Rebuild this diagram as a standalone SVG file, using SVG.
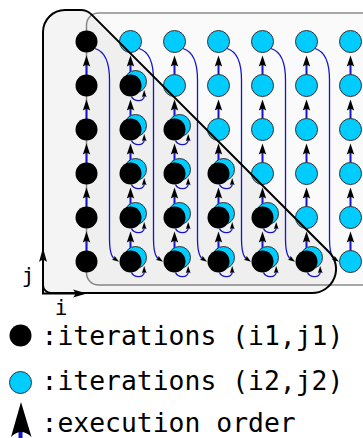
<svg xmlns="http://www.w3.org/2000/svg" width="363" height="438" viewBox="0 0 363 438">
<defs>
<style>
.bk{fill:#000}
.cy{fill:#00ccff;stroke:#333;stroke-width:1}
.v{stroke:#1414cc;stroke-width:2;fill:none;marker-end:url(#ah)}
.c{stroke:#1414cc;stroke-width:1.3;fill:none;marker-end:url(#ah)}
.ax{stroke:#000;stroke-width:2;fill:none;marker-end:url(#axh)}
.t{font-family:"DejaVu Sans Mono","Liberation Mono",monospace;fill:#000}
</style>
<marker id="ah" markerWidth="6" markerHeight="4" refX="1" refY="2" orient="auto" overflow="visible"><path d="M5.5,2 L0,0.15 Q1.5,2 0,3.85 Z" fill="#000" stroke="none"/></marker>
<marker id="axh" markerWidth="7" markerHeight="4" refX="1.5" refY="2" orient="auto" overflow="visible"><path d="M7,2 L0,0 Q2,2 0,4 Z" fill="#000" stroke="none"/></marker>
</defs>
<rect width="363" height="438" fill="#fff"/>
<g id="regions">
<rect x="86.5" y="13" width="300" height="272" rx="12" fill="#fafafa" stroke="#8c8c8c" stroke-width="1.5"/>
<path id="triangle-fill" d="M51,293 L312,293 A24,24 0 0 0 329,252 L91.4,14.4 A15,15 0 0 0 80.8,10 L65,10 A22,22 0 0 0 43,32 L43,285 A8,8 0 0 0 51,293 Z" fill="#000" fill-opacity="0.045" stroke="none"/>
</g>
<g id="connectors">
<line class="v" x1="86.5" y1="85.5" x2="86.5" y2="64.5"/><line class="v" x1="86.5" y1="129.5" x2="86.5" y2="108.5"/><line class="v" x1="86.5" y1="173.5" x2="86.5" y2="152.5"/><line class="v" x1="86.5" y1="217.5" x2="86.5" y2="196.5"/><line class="v" x1="86.5" y1="261.5" x2="86.5" y2="240.5"/>
<line class="v" x1="130.5" y1="85.5" x2="130.5" y2="64.5"/><line class="v" x1="130.5" y1="129.5" x2="130.5" y2="108.5"/><line class="v" x1="130.5" y1="173.5" x2="130.5" y2="152.5"/><line class="v" x1="130.5" y1="217.5" x2="130.5" y2="196.5"/><line class="v" x1="130.5" y1="261.5" x2="130.5" y2="240.5"/>
<line class="v" x1="174.5" y1="85.5" x2="174.5" y2="64.5"/><line class="v" x1="174.5" y1="129.5" x2="174.5" y2="108.5"/><line class="v" x1="174.5" y1="173.5" x2="174.5" y2="152.5"/><line class="v" x1="174.5" y1="217.5" x2="174.5" y2="196.5"/><line class="v" x1="174.5" y1="261.5" x2="174.5" y2="240.5"/>
<line class="v" x1="218.5" y1="85.5" x2="218.5" y2="64.5"/><line class="v" x1="218.5" y1="129.5" x2="218.5" y2="108.5"/><line class="v" x1="218.5" y1="173.5" x2="218.5" y2="152.5"/><line class="v" x1="218.5" y1="217.5" x2="218.5" y2="196.5"/><line class="v" x1="218.5" y1="261.5" x2="218.5" y2="240.5"/>
<line class="v" x1="262.5" y1="85.5" x2="262.5" y2="64.5"/><line class="v" x1="262.5" y1="129.5" x2="262.5" y2="108.5"/><line class="v" x1="262.5" y1="173.5" x2="262.5" y2="152.5"/><line class="v" x1="262.5" y1="217.5" x2="262.5" y2="196.5"/><line class="v" x1="262.5" y1="261.5" x2="262.5" y2="240.5"/>
<line class="v" x1="306.5" y1="85.5" x2="306.5" y2="64.5"/><line class="v" x1="306.5" y1="129.5" x2="306.5" y2="108.5"/><line class="v" x1="306.5" y1="173.5" x2="306.5" y2="152.5"/><line class="v" x1="306.5" y1="217.5" x2="306.5" y2="196.5"/><line class="v" x1="306.5" y1="261.5" x2="306.5" y2="240.5"/>
<line class="v" x1="350.5" y1="85.5" x2="350.5" y2="64.5"/><line class="v" x1="350.5" y1="129.5" x2="350.5" y2="108.5"/><line class="v" x1="350.5" y1="173.5" x2="350.5" y2="152.5"/><line class="v" x1="350.5" y1="217.5" x2="350.5" y2="196.5"/><line class="v" x1="350.5" y1="261.5" x2="350.5" y2="240.5"/>
<path class="c" d="M95,48.5 C103.5,51 109.5,60 109.5,80 L109.5,238 C109.5,250 110.5,256 114.2,258.5"/>
<path class="c" d="M139,48.5 C147.5,51 153.5,60 153.5,80 L153.5,238 C153.5,250 154.5,256 158.2,258.5"/>
<path class="c" d="M183,48.5 C191.5,51 197.5,60 197.5,80 L197.5,238 C197.5,250 198.5,256 202.2,258.5"/>
<path class="c" d="M227,48.5 C235.5,51 241.5,60 241.5,80 L241.5,238 C241.5,250 242.5,256 246.2,258.5"/>
<path class="c" d="M271,48.5 C279.5,51 285.5,60 285.5,80 L285.5,238 C285.5,250 286.5,256 290.2,258.5"/>
<path class="c" d="M315,48.5 C323.5,51 329.5,60 329.5,80 L329.5,238 C329.5,250 330.5,256 334.2,258.5"/>
<path class="c" d="M131.5,96.5 C133.5,101.5 144.2,102.5 144.2,95.9"/>
<path class="c" d="M131.5,140.5 C133.5,145.5 144.2,146.5 144.2,139.9"/>
<path class="c" d="M131.5,184.5 C133.5,189.5 144.2,190.5 144.2,183.9"/>
<path class="c" d="M131.5,228.5 C133.5,233.5 144.2,234.5 144.2,227.9"/>
<path class="c" d="M131.5,272.5 C133.5,277.5 144.2,278.5 144.2,271.9"/>
<path class="c" d="M175.5,140.5 C177.5,145.5 188.2,146.5 188.2,139.9"/>
<path class="c" d="M175.5,184.5 C177.5,189.5 188.2,190.5 188.2,183.9"/>
<path class="c" d="M175.5,228.5 C177.5,233.5 188.2,234.5 188.2,227.9"/>
<path class="c" d="M175.5,272.5 C177.5,277.5 188.2,278.5 188.2,271.9"/>
<path class="c" d="M219.5,184.5 C221.5,189.5 232.2,190.5 232.2,183.9"/>
<path class="c" d="M219.5,228.5 C221.5,233.5 232.2,234.5 232.2,227.9"/>
<path class="c" d="M219.5,272.5 C221.5,277.5 232.2,278.5 232.2,271.9"/>
<path class="c" d="M263.5,228.5 C265.5,233.5 276.2,234.5 276.2,227.9"/>
<path class="c" d="M263.5,272.5 C265.5,277.5 276.2,278.5 276.2,271.9"/>
<path class="c" d="M307.5,272.5 C309.5,277.5 320.2,278.5 320.2,271.9"/>
</g>
<g id="cyan-nodes">
<g id="c1-0"><circle class="cy" cx="130.5" cy="41.5" r="11"/></g>
<g id="c1-1"><circle class="cy" cx="135.5" cy="81.5" r="11"/></g>
<g id="c1-2"><circle class="cy" cx="135.5" cy="125.5" r="11"/></g>
<g id="c1-3"><circle class="cy" cx="135.5" cy="169.5" r="11"/></g>
<g id="c1-4"><circle class="cy" cx="135.5" cy="213.5" r="11"/></g>
<g id="c1-5"><circle class="cy" cx="135.5" cy="257.5" r="11"/></g>
<g id="c2-0"><circle class="cy" cx="174.5" cy="41.5" r="11"/></g>
<g id="c2-1"><circle class="cy" cx="174.5" cy="85.5" r="11"/></g>
<g id="c2-2"><circle class="cy" cx="179.5" cy="125.5" r="11"/></g>
<g id="c2-3"><circle class="cy" cx="179.5" cy="169.5" r="11"/></g>
<g id="c2-4"><circle class="cy" cx="179.5" cy="213.5" r="11"/></g>
<g id="c2-5"><circle class="cy" cx="179.5" cy="257.5" r="11"/></g>
<g id="c3-0"><circle class="cy" cx="218.5" cy="41.5" r="11"/></g>
<g id="c3-1"><circle class="cy" cx="218.5" cy="85.5" r="11"/></g>
<g id="c3-2"><circle class="cy" cx="218.5" cy="129.5" r="11"/></g>
<g id="c3-3"><circle class="cy" cx="223.5" cy="169.5" r="11"/></g>
<g id="c3-4"><circle class="cy" cx="223.5" cy="213.5" r="11"/></g>
<g id="c3-5"><circle class="cy" cx="223.5" cy="257.5" r="11"/></g>
<g id="c4-0"><circle class="cy" cx="262.5" cy="41.5" r="11"/></g>
<g id="c4-1"><circle class="cy" cx="262.5" cy="85.5" r="11"/></g>
<g id="c4-2"><circle class="cy" cx="262.5" cy="129.5" r="11"/></g>
<g id="c4-3"><circle class="cy" cx="262.5" cy="173.5" r="11"/></g>
<g id="c4-4"><circle class="cy" cx="267.5" cy="213.5" r="11"/></g>
<g id="c4-5"><circle class="cy" cx="267.5" cy="257.5" r="11"/></g>
<g id="c5-0"><circle class="cy" cx="306.5" cy="41.5" r="11"/></g>
<g id="c5-1"><circle class="cy" cx="306.5" cy="85.5" r="11"/></g>
<g id="c5-2"><circle class="cy" cx="306.5" cy="129.5" r="11"/></g>
<g id="c5-3"><circle class="cy" cx="306.5" cy="173.5" r="11"/></g>
<g id="c5-4"><circle class="cy" cx="306.5" cy="217.5" r="11"/></g>
<g id="c5-5"><circle class="cy" cx="311.5" cy="257.5" r="11"/></g>
<g id="c6-0"><circle class="cy" cx="350.5" cy="41.5" r="11"/></g>
<g id="c6-1"><circle class="cy" cx="350.5" cy="85.5" r="11"/></g>
<g id="c6-2"><circle class="cy" cx="350.5" cy="129.5" r="11"/></g>
<g id="c6-3"><circle class="cy" cx="350.5" cy="173.5" r="11"/></g>
<g id="c6-4"><circle class="cy" cx="350.5" cy="217.5" r="11"/></g>
<g id="c6-5"><circle class="cy" cx="350.5" cy="261.5" r="11"/></g>
</g>
<g id="black-nodes">
<g id="b0-0"><circle class="bk" cx="86.5" cy="41.5" r="11"/></g>
<g id="b0-1"><circle class="bk" cx="86.5" cy="85.5" r="11"/></g>
<g id="b0-2"><circle class="bk" cx="86.5" cy="129.5" r="11"/></g>
<g id="b0-3"><circle class="bk" cx="86.5" cy="173.5" r="11"/></g>
<g id="b0-4"><circle class="bk" cx="86.5" cy="217.5" r="11"/></g>
<g id="b0-5"><circle class="bk" cx="86.5" cy="261.5" r="11"/></g>
<g id="b1-1"><circle class="bk" cx="130.5" cy="85.5" r="11"/></g>
<g id="b1-2"><circle class="bk" cx="130.5" cy="129.5" r="11"/></g>
<g id="b1-3"><circle class="bk" cx="130.5" cy="173.5" r="11"/></g>
<g id="b1-4"><circle class="bk" cx="130.5" cy="217.5" r="11"/></g>
<g id="b1-5"><circle class="bk" cx="130.5" cy="261.5" r="11"/></g>
<g id="b2-2"><circle class="bk" cx="174.5" cy="129.5" r="11"/></g>
<g id="b2-3"><circle class="bk" cx="174.5" cy="173.5" r="11"/></g>
<g id="b2-4"><circle class="bk" cx="174.5" cy="217.5" r="11"/></g>
<g id="b2-5"><circle class="bk" cx="174.5" cy="261.5" r="11"/></g>
<g id="b3-3"><circle class="bk" cx="218.5" cy="173.5" r="11"/></g>
<g id="b3-4"><circle class="bk" cx="218.5" cy="217.5" r="11"/></g>
<g id="b3-5"><circle class="bk" cx="218.5" cy="261.5" r="11"/></g>
<g id="b4-4"><circle class="bk" cx="262.5" cy="217.5" r="11"/></g>
<g id="b4-5"><circle class="bk" cx="262.5" cy="261.5" r="11"/></g>
<g id="b5-5"><circle class="bk" cx="306.5" cy="261.5" r="11"/></g>
</g>
<path id="triangle-outline" d="M51,293 L312,293 A24,24 0 0 0 329,252 L91.4,14.4 A15,15 0 0 0 80.8,10 L65,10 A22,22 0 0 0 43,32 L43,285 A8,8 0 0 0 51,293 Z" fill="none" stroke="#000" stroke-width="2"/>
<g id="axes">
<path class="ax" d="M43,293.5 L43,259"/>
<path class="ax" d="M42,293.5 L76,293.5"/>
<text class="t" x="28" y="283" font-size="21" text-anchor="middle">j</text>
<text class="t" x="61" y="315" font-size="21" text-anchor="middle">i</text>
</g>
<g id="legend">
<circle class="bk" cx="20.5" cy="335.5" r="11"/>
<text class="t" x="41.5" y="345" font-size="26.4">:iterations (i1,j1)</text>
<circle class="cy" cx="20.5" cy="382.5" r="11"/>
<text class="t" x="41.5" y="390" font-size="26.4">:iterations (i2,j2)</text>
<rect x="18.5" y="426" width="4" height="12" fill="#1414cc"/>
<path d="M21,402 L31.5,437 Q21,427 11,437 Z" fill="#000"/>
<text class="t" x="41.5" y="432" font-size="26.4">:execution order</text>
</g>
</svg>
